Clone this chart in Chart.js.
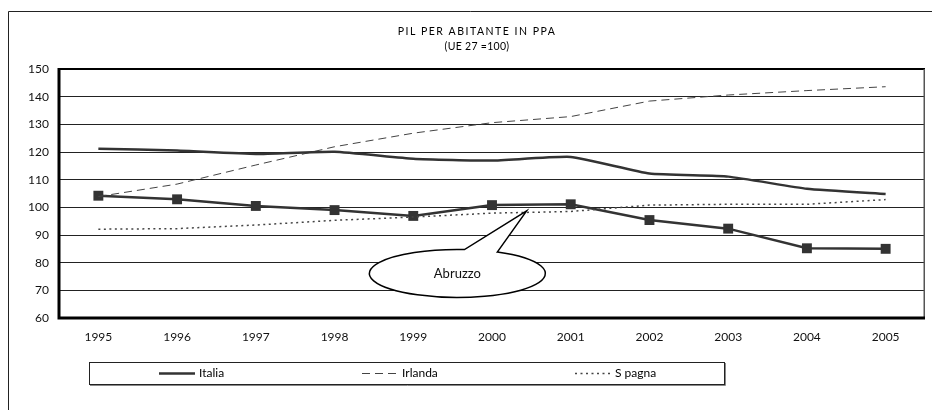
<!DOCTYPE html>
<html>
<head>
<meta charset="utf-8">
<script src="https://cdn.jsdelivr.net/npm/chart.js"></script>
<style>
  body { margin: 0; background: #fff; }
  #wrap { width: 932px; height: 410px; }
</style>
</head>
<body>
<div id="wrap"><canvas id="chart" width="932" height="410"></canvas></div>
<script>
// dati (UE27 = 100)
var anni = ['1995', '1996', '1997', '1998', '1999', '2000', '2001', '2002', '2003', '2004', '2005'];
var italia = [121.2, 120.5, 119.3, 120.1, 117.6, 116.9, 118.2, 112.2, 111.1, 106.7, 104.8];
var irlanda = [103.9, 108.4, 115.3, 121.9, 126.8, 130.6, 132.8, 138.4, 140.6, 142.2, 143.6];
var spagna = [92.1, 92.3, 93.6, 95.3, 96.5, 97.9, 98.5, 100.8, 101.1, 101.1, 102.8];
var abruzzo = [104.2, 102.9, 100.5, 99.0, 96.9, 100.8, 101.1, 95.4, 92.3, 85.2, 85.0];
var yMin = 60, yMax = 150, yStep = 10;

var titolo = 'PIL PER ABITANTE IN PPA';
var sottotitolo = '(UE 27 =100)';
var etichettaCallout = 'Abruzzo';
var legendaVoci = ['Italia', 'Irlanda', 'S pagna'];

var FONT = 'Lato, "Liberation Sans", sans-serif';
var SCURO = '#333333';

var cornice = {
    id: 'cornice',
    beforeDraw: function (chart) {
        var ctx = chart.ctx;
        ctx.save();
        ctx.fillStyle = '#fff';
        ctx.fillRect(0, 0, chart.width, chart.height);
        // bordo esterno
        ctx.strokeStyle = '#222';
        ctx.lineWidth = 1;
        ctx.beginPath();
        ctx.moveTo(8.5, 410);
        ctx.lineTo(8.5, 11.5);
        ctx.lineTo(932, 11.5);
        ctx.stroke();
        // titolo
        ctx.fillStyle = '#000';
        ctx.textAlign = 'center';
        ctx.textBaseline = 'middle';
        ctx.font = '10.5px ' + FONT;
        ctx.letterSpacing = '1.5px';
        ctx.fillText(titolo, 477, 32);
        ctx.letterSpacing = '0.3px';
        ctx.fillText(sottotitolo, 477, 47);
        ctx.restore();
    },
    afterDatasetsDraw: function (chart) {
        var ctx = chart.ctx;
        var a = chart.chartArea;
        var xs = chart.scales.x, ys = chart.scales.y;
        ctx.save();
        // bordi area del grafico
        ctx.strokeStyle = '#000';
        ctx.lineWidth = 2;
        ctx.beginPath();
        ctx.moveTo(a.left, a.top);
        ctx.lineTo(a.right, a.top);
        ctx.stroke();
        ctx.strokeStyle = '#555';
        ctx.lineWidth = 1.5;
        ctx.beginPath();
        ctx.moveTo(a.right - 0.75, a.top);
        ctx.lineTo(a.right - 0.75, a.bottom);
        ctx.stroke();
        ctx.strokeStyle = '#000';
        ctx.lineWidth = 3;
        ctx.beginPath();
        ctx.moveTo(a.left, a.top - 1);
        ctx.lineTo(a.left, a.bottom);
        ctx.lineTo(a.right, a.bottom);
        ctx.stroke();

        // fumetto "Abruzzo"
        var tx = xs.getPixelForValue(5.44), ty = ys.getPixelForValue(98.7);
        var cx = xs.getPixelForValue(4.56), cy = ys.getPixelForValue(76.1);
        var rx = 88, ry = 24;
        var t1 = -1.49, t2 = -1.10;
        ctx.beginPath();
        ctx.moveTo(tx, ty);
        ctx.lineTo(cx + rx * Math.cos(t2), cy + ry * Math.sin(t2));
        ctx.ellipse(cx, cy, rx, ry, 0, t2, t1, false);
        ctx.closePath();
        ctx.fillStyle = '#fff';
        ctx.fill();
        ctx.strokeStyle = '#000';
        ctx.lineWidth = 1.5;
        ctx.stroke();
        ctx.fillStyle = '#111';
        ctx.font = '13px ' + FONT;
        ctx.textAlign = 'center';
        ctx.textBaseline = 'middle';
        ctx.fillText(etichettaCallout, cx, cy);

        // legenda
        ctx.fillStyle = '#fff';
        ctx.fillRect(89, 362, 635, 22);
        ctx.strokeStyle = '#222';
        ctx.lineWidth = 1;
        ctx.strokeRect(89.5, 362.5, 635, 22);
        ctx.beginPath();
        ctx.moveTo(90, 385.5);
        ctx.lineTo(725.5, 385.5);
        ctx.lineTo(725.5, 363);
        ctx.strokeStyle = '#888';
        ctx.stroke();
        var pos = [159, 362, 575];
        var ly = 373.5;
        for (var i = 0; i < 3; i++) {
            var ds = chart.data.datasets[i];
            ctx.strokeStyle = ds.borderColor;
            ctx.lineWidth = ds.borderWidth;
            ctx.setLineDash(ds.borderDash || []);
            ctx.beginPath();
            ctx.moveTo(pos[i], ly);
            ctx.lineTo(pos[i] + 36, ly);
            ctx.stroke();
            ctx.setLineDash([]);
            ctx.fillStyle = '#000';
            ctx.font = '12px ' + FONT;
            ctx.textAlign = 'left';
            ctx.fillText(legendaVoci[i], pos[i] + 40, ly);
        }
        ctx.restore();
    }
};

var ctx = document.getElementById('chart').getContext('2d');
var chart = new Chart(ctx, {
    type: 'line',
    data: {
        labels: anni,
        datasets: [{
            label: 'Italia',
            data: italia,
            borderColor: SCURO,
            borderWidth: 2.5,
            pointRadius: 0,
            tension: 0.15
        }, {
            label: 'Irlanda',
            data: irlanda,
            borderColor: '#444',
            borderWidth: 1,
            borderDash: [8, 5],
            pointRadius: 0
        }, {
            label: 'Spagna',
            data: spagna,
            borderColor: '#444',
            borderWidth: 1.5,
            borderDash: [2, 3.5],
            pointRadius: 0
        }, {
            label: 'Abruzzo',
            data: abruzzo,
            borderColor: SCURO,
            borderWidth: 2.5,
            pointStyle: 'rect',
            pointRadius: 7,
            pointBackgroundColor: SCURO,
            pointBorderColor: SCURO,
            pointBorderWidth: 0
        }]
    },
    options: {
        responsive: false,
        animation: false,
        layout: { padding: { top: 69, right: 1, left: 0, bottom: 0 } },
        plugins: {
            legend: { display: false },
            title: { display: false },
            tooltip: { enabled: false }
        },
        scales: {
            x: {
                offset: true,
                grid: { display: false, drawTicks: false },
                border: { display: false },
                ticks: {
                    color: '#111',
                    font: { family: FONT, size: 12 },
                    padding: 12,
                    maxRotation: 0
                },
                afterFit: function (scale) { scale.height = 92; }
            },
            y: {
                min: yMin,
                max: yMax,
                grid: { color: '#222', lineWidth: 1, drawTicks: false },
                border: { display: false },
                ticks: {
                    stepSize: yStep,
                    color: '#111',
                    font: { family: FONT, size: 12 },
                    padding: 10
                },
                afterFit: function (scale) { scale.width = 59; }
            }
        }
    },
    plugins: [cornice]
});
</script>
</body>
</html>
